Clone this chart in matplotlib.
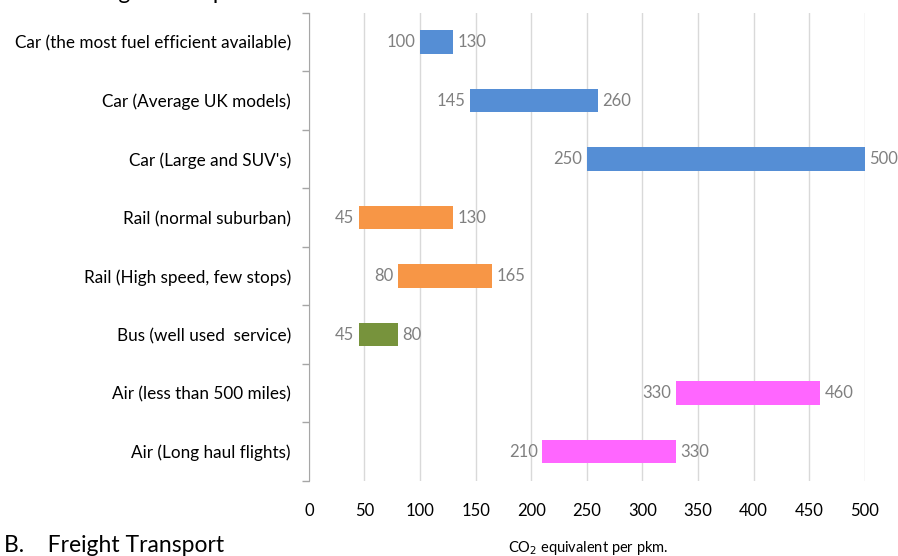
import matplotlib.pyplot as plt

categories = ['Car (the most fuel efficient available)', 'Car (Average UK models)',
              "Car (Large and SUV's)", 'Rail (normal suburban)',
              'Rail (High speed, few stops)', 'Bus (well used  service)',
              'Air (less than 500 miles)', 'Air (Long haul flights)']
low = [100, 145, 250, 45, 80, 45, 330, 210]
high = [130, 260, 500, 130, 165, 80, 460, 330]
colors = ['#558ED5', '#558ED5', '#558ED5', '#F79646', '#F79646', '#77933C', '#FF66FF', '#FF66FF']

plt.rcParams['font.family'] = ['Lato', 'DejaVu Sans']

fig = plt.figure(figsize=(8.98, 5.56), dpi=100)
ax = fig.add_axes([0.344, 0.135, 0.619, 0.842])

y = list(range(len(categories)))
widths = [h - l for l, h in zip(low, high)]
ax.barh(y, widths, left=low, height=0.4, color=colors, zorder=3)

for yi, l, h in zip(y, low, high):
    ax.text(l - 4, yi, str(l), ha='right', va='center', color='#808080', fontsize=12)
    ax.text(h + 4, yi, str(h), ha='left', va='center', color='#808080', fontsize=12)

ax.set_xlim(0, 500)
ax.set_ylim(len(categories) - 0.5, -0.5)
ax.set_xticks(range(0, 501, 50))
ax.grid(axis='x', color='#d9d9d9', linewidth=1, zorder=0)
ax.tick_params(axis='x', length=0, pad=16, labelsize=12)

ax.set_yticks(y)
ax.set_yticklabels(categories, fontsize=12.3)
ax.set_yticks([i - 0.5 for i in range(len(categories) + 1)], minor=True)
ax.tick_params(axis='y', which='major', length=0, pad=13)
ax.tick_params(axis='y', which='minor', length=5, color='#a6a6a6', width=1)

for s in ['top', 'right', 'bottom']:
    ax.spines[s].set_visible(False)
ax.spines['left'].set_color('#a6a6a6')

fig.text(0.005, 0.008, 'B.    Freight Transport', fontsize=16.5, va='baseline')
fig.text(0.005, 1.002, 'A.    Passenger Transport', fontsize=16.5, va='baseline')
fig.text(0.655, 0.008, 'CO$_2$ equivalent per pkm.', fontsize=10.5, ha='center', va='baseline')

fig.savefig('out.png', dpi=100)
